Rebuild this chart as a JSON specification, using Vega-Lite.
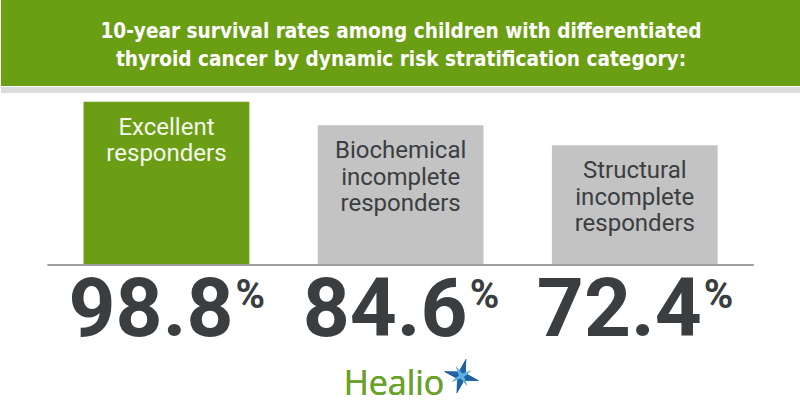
{
  "$schema": "https://vega.github.io/schema/vega-lite/v6.json",
  "padding": 0,
  "background": "white",
  "spacing": 0,
  "center": true,
  "config": {"view": {"stroke": null}},
  "data": {"values": [
    {"group": "Excellent", "rate": 98.8, "label": "Excellent\nresponders"},
    {"group": "Biochemical", "rate": 84.6, "label": "Biochemical\nincomplete\nresponders"},
    {"group": "Structural", "rate": 72.4, "label": "Structural\nincomplete\nresponders"}
  ]},
  "vconcat": [
    {
      "width": 800,
      "height": 86,
      "view": {"fill": "#6a9e13", "stroke": null},
      "data": {"values": [{"title": "10-year survival rates among children with differentiated\nthyroid cancer by dynamic risk stratification category:"}]},
      "mark": {"type": "text", "color": "#ffffff", "font": "DejaVu Sans Condensed, Roboto", "fontWeight": "bold", "fontSize": 20.6, "lineHeight": 28, "lineBreak": "\n", "align": "center", "baseline": "middle", "dy": -11},
      "encoding": {"text": {"field": "title", "type": "nominal"}}
    },
    {
      "width": 800,
      "height": 6,
      "view": {"fill": "#dcdcdc", "stroke": null},
      "mark": {"type": "rule", "opacity": 0},
      "encoding": {}
    },
    {
      "width": 706,
      "height": 328,
      "resolve": {"scale": {"color": "independent"}},
      "layer": [
        {
          "mark": {"type": "bar"},
          "encoding": {
            "x": {"field": "group", "type": "nominal", "sort": null, "scale": {"paddingInner": 0.292, "paddingOuter": 0.1535}, "axis": null},
            "y": {"field": "rate", "type": "quantitative", "scale": {"domain": [-94.4, 104.05], "nice": false, "zero": false}, "axis": null},
            "y2": {"datum": 0},
            "color": {"field": "group", "type": "nominal", "sort": null, "scale": {"range": ["#6b9e14", "#c3c3c3", "#c3c3c3"]}, "legend": null}
          }
        },
        {
          "mark": {"type": "rule", "color": "#9c9c9c", "strokeWidth": 1.5},
          "encoding": {"y": {"datum": 0}}
        },
        {
          "mark": {"type": "text", "font": "Roboto", "fontSize": 24, "lineBreak": "\n", "lineHeight": 26.5, "align": "center", "baseline": "alphabetic", "dy": 33},
          "encoding": {
            "x": {"field": "group", "type": "nominal", "sort": null},
            "y": {"field": "rate", "type": "quantitative"},
            "text": {"field": "label", "type": "nominal"},
            "color": {"field": "group", "type": "nominal", "sort": null, "scale": {"range": ["#f4f8ec", "#3b3e40", "#3b3e40"]}, "legend": null}
          }
        },
        {
          "mark": {"type": "text", "font": "Roboto", "fontWeight": "bold", "fontSize": 82, "align": "right", "baseline": "alphabetic", "dx": 67, "color": "#3a3e40"},
          "encoding": {
            "x": {"field": "group", "type": "nominal", "sort": null},
            "y": {"datum": -43},
            "text": {"field": "rate", "type": "quantitative", "format": ".1f"}
          }
        },
        {
          "mark": {"type": "text", "font": "Roboto", "fontWeight": "bold", "fontSize": 40, "align": "left", "baseline": "alphabetic", "dx": 69, "dy": -28, "color": "#3a3e40"},
          "encoding": {
            "x": {"field": "group", "type": "nominal", "sort": null},
            "y": {"datum": -43},
            "text": {"value": "%"}
          }
        },
        {
          "mark": {"type": "text", "font": "Open Sans", "fontSize": 34, "align": "left", "baseline": "alphabetic", "dx": -57, "color": "#6aa22c"},
          "encoding": {
            "x": {"datum": "Biochemical"},
            "y": {"datum": -78.7},
            "text": {"value": "Healio"}
          }
        },
        {
          "mark": {"type": "point", "filled": true, "shape": "M0,-1 L0.2,-0.2 L1,0 L0.2,0.2 L0,1 L-0.2,0.2 L-1,0 L-0.2,-0.2 Z", "size": 1300, "angle": 15, "color": "#1f63a4", "opacity": 1},
          "encoding": {
            "x": {"datum": "Biochemical", "bandPosition": 0.867},
            "y": {"datum": -67.2}
          }
        },
        {
          "mark": {"type": "point", "filled": true, "shape": "M0,-1 L0.15,-0.15 L1,0 L0.15,0.15 L0,1 L-0.15,0.15 L-1,0 L-0.15,-0.15 Z", "size": 500, "angle": 60, "color": "#5fb0dc", "opacity": 1},
          "encoding": {
            "x": {"datum": "Biochemical", "bandPosition": 0.867},
            "y": {"datum": -67.2}
          }
        }
      ]
    }
  ]
}
